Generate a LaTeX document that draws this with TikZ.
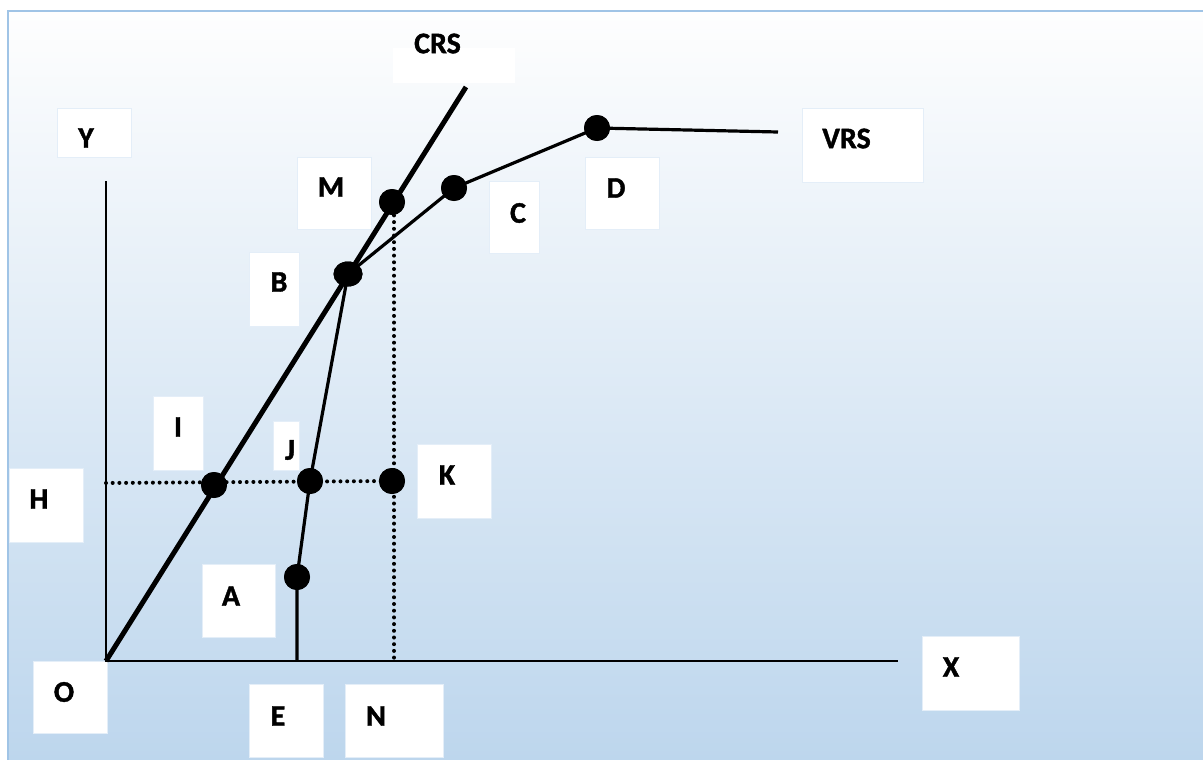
\documentclass[tikz,border=0pt]{standalone}
\usepackage{fontspec}
\setmainfont{Carlito}[BoldFeatures={FakeBold=1.3}]
\usetikzlibrary{shapes.geometric}
\definecolor{bgtop}{RGB}{254,254,254}
\definecolor{bgmid}{RGB}{234,240,248}
\definecolor{bgbot}{RGB}{189,214,237}
\definecolor{frame}{RGB}{160,196,230}
\definecolor{boxedge}{RGB}{228,238,248}
\begin{document}
\begin{tikzpicture}[x=1pt,y=-1pt,
  lbox/.style={fill=white,draw=boxedge,line width=0.6pt},
  lbl/.style={inner sep=0pt,font=\fontsize{30}{34}\selectfont\bfseries},
  bigdot/.style={circle,fill=black,inner sep=0pt,minimum size=26pt},
  axisline/.style={line width=2pt},
  crsline/.style={line width=5pt},
  vrsline/.style={line width=3.2pt},
  dotline/.style={line width=4pt,line cap=round,dash pattern=on 0pt off 6.7pt}]
% background
\useasboundingbox (0,0) rectangle (1203,760);
\fill[white] (0,0) rectangle (1203,760);
\shade[top color=bgtop,middle color=bgmid,bottom color=bgbot] (8,11) rectangle (1203,760);
\draw[frame,line width=2pt] (8,760) -- (8,11) -- (1203,11);
% label boxes
\fill[white] (393,48) rectangle (515,83);
\path[lbox] (57,108) rectangle (131,157);
\path[lbox] (802,108) rectangle (923,182);
\path[lbox] (297,157) rectangle (371,229);
\path[lbox] (489,181) rectangle (539,253);
\path[lbox] (585,157) rectangle (659,229);
\path[lbox] (249,252) rectangle (299,326);
\path[lbox] (153,396) rectangle (203,470);
\path[lbox] (273,421) rectangle (299,470);
\path[lbox] (417,444) rectangle (491,518);
\path[lbox] (9,468) rectangle (83,542);
\path[lbox] (202,564) rectangle (275,637);
\path[lbox] (33,661) rectangle (107,733);
\path[lbox] (249,684) rectangle (323,757);
\path[lbox] (345,684) rectangle (443,757);
\path[lbox] (922,636) rectangle (1019,710);
% coordinates
\coordinate (O) at (106,661);
\coordinate (ytop) at (106,181);
\coordinate (xend) at (898,661);
\coordinate (crstop) at (466,87);
\coordinate (E) at (297,661);
\coordinate (N) at (394,661);
\coordinate (H) at (106,483);
\coordinate (vrsend) at (778,132);
\coordinate (Mx) at (394,202);
% dots
\node[bigdot] (D) at (597,128) {};
\node[bigdot] (C) at (454,188) {};
\node[bigdot] (M) at (392,202) {};
\node[bigdot,ellipse,minimum width=29pt,minimum height=25pt] (B) at (348,274) {};
\node[bigdot] (I) at (214,485) {};
\node[bigdot] (J) at (310,481) {};
\node[bigdot] (K) at (392,481) {};
\node[bigdot] (A) at (297,577) {};
% dotted lines
\draw[dotline] (H) -- (K.center);
\draw[dotline] (Mx) -- (N);
% axes
\draw[axisline] (ytop) -- (O) -- (xend);
% CRS
\draw[crsline] (O) -- (crstop);
% VRS
\draw[vrsline,line join=round] (E) -- (A.center) -- (J.center) -- (B.center) -- (C.center) -- (D.center) -- (vrsend);
% redraw dots on top of lines
\foreach \n in {D,C,M,I,J,K,A}
  \fill (\n.center) circle (13pt);
\fill (B.center) ellipse (14.5pt and 12.5pt);
% labels
\node[lbl] (tCRS) at (437.5,43.5) {CRS};
\node[lbl] (tY) at (86,138) {Y};
\node[lbl] (tVRS) at (846.5,138.5) {VRS};
\node[lbl] (tM) at (331,187) {M};
\node[lbl] (tC) at (518,213) {C};
\node[lbl] (tD) at (616,188) {D};
\node[lbl] (tB) at (279,282) {B};
\node[lbl] (tI) at (178,427) {I};
\node[lbl] (tJ) at (290,450) {J};
\node[lbl] (tH) at (39,499) {H};
\node[lbl] (tA) at (231,596) {A};
\node[lbl] (tK) at (447,475) {K};
\node[lbl] (tO) at (64,692) {O};
\node[lbl] (tE) at (278,716) {E};
\node[lbl] (tN) at (376,716) {N};
\node[lbl] (tX) at (951,667) {X};
\end{tikzpicture}
\end{document}
